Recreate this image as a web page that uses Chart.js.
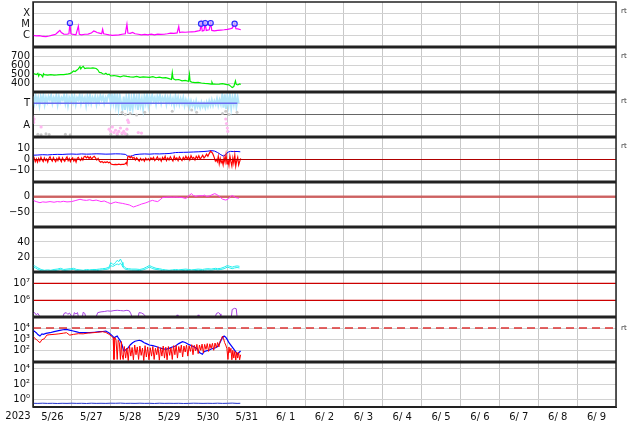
<!DOCTYPE html>
<html>
<head>
<meta charset="utf-8">
<script src="https://cdn.jsdelivr.net/npm/chart.js@4.4.1/dist/chart.umd.min.js"></script>
<style>
  html, body { margin: 0; padding: 0; background: #fff; }
  canvas { display: block; }
</style>
</head>
<body>
<canvas id="chart" width="634" height="424"></canvas>
<script>
// x values are hours after 2023-05-26 00:00
const dayLabels = ["5/26", "5/27", "5/28", "5/29", "5/30", "5/31", "6/ 1", "6/ 2", "6/ 3", "6/ 4", "6/ 5", "6/ 6", "6/ 7", "6/ 8", "6/ 9"];

// panel 1: x-ray flux
const xrayFlux = [[0,1.0e-6],[2,8.9e-7],[4,9.5e-7],[6,7.9e-7],[8,7.6e-7],[10,8.7e-7],[12,1.05e-6],[14,1.26e-6],[15.5,2.0e-6],[16.6,2.8e-6],[17.5,1.8e-6],[19,1.3e-6],[21,1.26e-6],[22.2,1.4e-6],[22.8,1.26e-5],[23.4,1.4e-6],[25,1.2e-6],[26.5,1.1e-6],[28,7.0e-6],[28.6,1.26e-6],[30,1.1e-6],[32,1.26e-6],[34,1.3e-6],[36,1.6e-6],[37.5,2.5e-6],[38.5,2.2e-6],[39.5,1.8e-6],[41,1.6e-6],[42.4,1.4e-6],[43,3.5e-6],[43.6,1.4e-6],[45,1.26e-6],[47,1.1e-6],[49,1.0e-6],[51,1.05e-6],[53,1.1e-6],[55,1.26e-6],[57,1.4e-6],[58,1.0e-5],[58.6,1.6e-6],[60,1.5e-6],[61.5,1.8e-6],[63,1.4e-6],[65,1.26e-6],[67,1.1e-6],[69,1.2e-6],[71,1.1e-6],[73,1.26e-6],[75,1.1e-6],[77,1.3e-6],[79,1.2e-6],[81,1.26e-6],[83,1.4e-6],[85,1.6e-6],[87,1.5e-6],[89,1.66e-6],[90,6.3e-6],[90.6,1.8e-6],[92,2.0e-6],[94,1.9e-6],[96,2.0e-6],[98,2.1e-6],[100,2.2e-6],[102,2.5e-6],[103.2,2.8e-6],[103.8,1.2e-5],[104.5,2.5e-6],[105.6,2.8e-6],[106.3,1.3e-5],[107,2.8e-6],[108.8,3.2e-6],[109.7,1.3e-5],[110.4,2.8e-6],[112,2.5e-6],[114,2.8e-6],[116,3.0e-6],[118,3.2e-6],[120,3.5e-6],[121.5,3.8e-6],[123,4.5e-6],[124.5,1.1e-5],[125.3,4.0e-6],[126.5,3.8e-6],[128.3,3.2e-6]];
const flareFlux = [[22.8,1.3e-5],[103.8,1.15e-5],[106.3,1.3e-5],[109.7,1.3e-5],[124.5,1.15e-5]];

// panel 2: solar wind speed
const windSpeed = [[0,500],[1,505],[2,495],[3,510],[3.5,480],[4,500],[5,495],[6,470],[6.5,505],[7,495],[9,490],[11,495],[13,490],[15,492],[17,495],[19,495],[21,500],[23,510],[24,520],[25,537],[26,530],[27,545],[28,560],[29,586],[29.5,560],[30,575],[31,590],[32,565],[33,570],[35,568],[37,572],[39,565],[40,550],[41,520],[42,518],[43,505],[44,500],[45,510],[46,495],[47,500],[48,480],[50,485],[52,478],[54,470],[56,482],[58,475],[60,470],[62,468],[64,475],[66,465],[68,470],[70,468],[72,465],[74,472],[76,460],[78,466],[80,458],[82,462],[84,450],[85.5,440],[86,518],[86.5,450],[88,435],[90,440],[92,425],[94,430],[96,420],[96.6,500],[97,420],[98,410],[100,405],[102,408],[104,400],[106,395],[108,392],[110,388],[110.5,410],[111,390],[113,386],[115,388],[117,392],[119,384],[121,380],[122,365],[123,348],[124,360],[125,425],[125.5,385],[126.5,378],[127.5,390],[128.3,385]];

// panel 3: T / A
const tBand = [[0,3.6],[0.8,3.0],[1.6,3.7],[2.4,3.1],[3.2,3.5],[4,2.8],[4.8,3.6],[5.6,3.2],[6.4,3.7],[7.2,2.9],[8,3.5],[8.8,3.1],[9.6,3.6],[10.4,3.3],[11.2,3.7],[12,3.0],[12.8,3.5],[13.6,3.2],[14.4,3.7],[15.2,2.9],[16,3.6],[16.8,3.1],[17.6,3.5],[18.4,3.3],[19.2,3.7],[20,3.0],[20.8,3.6],[21.6,2.8],[22.4,3.5],[23.2,3.2],[24,3.7],[24.8,3.1],[25.6,3.6],[26.4,2.9],[27.2,3.5],[28,3.3],[28.8,3.7],[29.6,3.0],[30.4,3.6],[31.2,3.2],[32,3.5],[32.8,2.8],[33.6,3.6],[34.4,3.1],[35.2,3.7],[36,3.0],[36.8,3.5],[37.6,3.2],[38.4,3.6],[39.2,2.9],[40,3.5],[40.8,3.1],[41.6,3.7],[42.4,3.3],[43.2,3.6],[44,3.0],[44.8,3.5],[45.6,3.2],[46.4,3.7],[47.2,3.8],[48,2.9],[48.8,3.7],[49.6,3.0],[50.4,3.8],[51.2,2.8],[52,3.6],[52.8,2.6],[53.6,3.7],[54.4,3.1],[55.2,2.5],[56,3.6],[56.8,2.4],[57.6,3.5],[58.4,2.7],[59.2,3.6],[60,2.3],[60.8,3.4],[61.6,2.6],[62.4,3.7],[63.2,2.9],[64,3.5],[64.8,2.4],[65.6,3.6],[66.4,2.8],[67.2,3.4],[68,2.5],[68.8,3.6],[69.6,3.0],[70.4,3.7],[71.2,2.8],[72,3.6],[72.8,3.1],[73.6,3.7],[74.4,3.2],[75.2,3.5],[76,2.9],[76.8,3.6],[77.6,3.2],[78.4,3.7],[79.2,3.0],[80,3.5],[80.8,3.2],[81.6,3.6],[82.4,2.9],[83.2,3.5],[84,3.1],[84.8,3.6],[85.6,3.0],[86.4,3.4],[87.2,2.8],[88,3.6],[88.8,3.0],[89.6,3.5],[90.4,2.9],[91.2,3.4],[92,3.0],[92.8,3.5],[93.6,2.8],[94.4,3.3],[95.2,2.9],[96,3.3],[96.8,2.7],[97.6,3.2],[98.4,2.8],[99.2,3.1],[100,2.6],[100.8,3.2],[101.6,2.7],[102.4,3.0],[103.2,2.6],[104,3.1],[104.8,2.7],[105.6,3.0],[106.4,2.6],[107.2,3.1],[108,2.7],[108.8,3.2],[109.6,2.8],[110.4,3.3],[111.2,2.8],[112,3.2],[112.8,2.9],[113.6,3.4],[114.4,2.8],[115.2,3.3],[116,2.9],[116.8,3.7],[117.6,2.6],[118.4,3.8],[119.2,2.5],[120,3.6],[120.8,2.8],[121.6,3.7],[122.4,2.6],[123.2,3.5],[124,2.9],[124.8,3.7],[125.6,2.7],[126.4,3.5],[127,3.0]];
const tLevel = [[0,3],[126.2,3]];
const grayDots = [[55,2.2],[57,2.0],[60,2.1],[64,1.95],[69,2.2],[86,2.3],[98,2.4],[101,2.2],[117,2.1],[119,2.3],[121,2.0],[126,2.2],[3,0.25],[5,0.2],[8,0.28],[10,0.22],[20,0.25],[23,0.2],[48,0.25],[52,0.2],[55,0.28],[58,0.22]];
const pinkDots = [[0,1.8],[0.2,1.5],[0.4,1.3],[0.6,1.6],[5,0.9],[47,0.7],[48,0.5],[49,0.9],[50,0.4],[51,0.6],[52,0.3],[53,0.5],[54,0.8],[55,0.35],[56,0.5],[57,0.3],[58,0.7],[58.5,1.5],[59,1.3],[65,0.4],[67,0.35],[119,1.6],[119.5,1.2],[120,0.8],[120.3,0.5]];

// panel 4: IMF Bt / Bz
const imfBt = [[0,4],[3,4.2],[6,4.5],[9,4.3],[12,4.6],[15,4.8],[18,4.7],[21,5],[24,5.1],[27,4.9],[30,5.2],[33,5],[36,5.1],[39,5.3],[42,5.2],[45,5],[48,5.1],[51,5.3],[54,5.2],[57,4.8],[58.5,3.2],[60,3],[61.5,3.6],[63,4.5],[66,5],[69,5.2],[72,5],[75,5.3],[78,5.2],[81,5.4],[84,5.6],[86,6],[88,6.5],[90,6.6],[93,6.7],[96,6.8],[99,7],[102,7.2],[105,7.4],[108,7.8],[110,8.3],[112,7.9],[114,6.5],[116,4.5],[117.5,3.2],[119,4.5],[120.5,7],[122,7.6],[124,7.4],[126,7.5],[128,7.2]];
const imfBz = [[0,-1],[0.7,1.5],[1.4,-2],[2.1,0.5],[2.8,-2.5],[3.5,1],[4.2,-1.5],[4.9,2],[5.6,-0.5],[6.3,-2],[7,1.5],[7.7,-1],[8.4,0.5],[9.1,-2.5],[9.8,1],[10.5,2.5],[11.2,0],[11.9,-1.5],[12.6,1.8],[13.3,-0.5],[14,-2],[14.7,1],[15.4,-1],[16.1,2],[16.8,0],[17.5,-2],[18.2,1.5],[18.9,-0.5],[19.6,-1.8],[20.3,0.8],[21,2.5],[21.7,-1],[22.4,1],[23.1,-2],[23.8,0.5],[24.5,1.5],[25.2,-1.5],[25.9,0.5],[26.6,-2.5],[27.3,1],[28,2],[28.7,0],[29.4,-1],[30.1,1.5],[30.8,-0.5],[31.5,2.5],[32.2,3],[33,1.5],[33.8,2.8],[34.6,1],[35.4,2.5],[36.2,0.5],[37,2],[37.8,3],[38.6,1.5],[39.4,-0.5],[40.2,1],[41,-1.5],[41.8,-2.5],[42.6,-1.8],[43.4,-3],[44.2,-2.2],[45,-2.8],[45.8,-2],[46.6,-3],[47.4,-2.5],[48.2,-4.2],[49,-4.6],[50,-4.8],[51,-4.5],[52,-4.7],[53,-4.4],[54,-4.8],[55,-4.5],[56,-4.6],[57,-4],[57.5,-3],[58,-4.5],[58.5,2.5],[59.3,3],[60,1.5],[60.8,2.8],[61.6,1],[62.4,2],[63.2,-0.5],[64,1.5],[64.8,0],[65.6,-1.5],[66.4,1],[67.2,-0.8],[68,0.5],[68.8,-1.5],[69.6,1.2],[70.4,-0.5],[71.2,0.8],[72,-1],[72.8,1.5],[73.6,0],[74.4,2],[75.2,-1],[76,0.5],[76.8,2.5],[77.6,-0.5],[78.4,1],[79.2,-1.5],[80,2],[80.8,0],[81.6,3],[82.4,-1],[83.2,1.5],[84,-0.5],[84.8,2.5],[85.6,0.5],[86.4,-1.5],[87.2,3],[88,0],[88.8,1.5],[89.6,-1],[90.4,2.5],[91.2,0.5],[92,-1],[92.8,2],[93.6,0],[94.4,3],[95.2,0.5],[96,2.5],[96.8,-0.5],[97.6,3.5],[98.4,1],[99.2,2],[100,-0.5],[100.8,3],[101.6,1],[102.4,3.5],[103.2,0.5],[104,2],[104.8,4],[105.6,1.5],[106.4,3],[107.2,5],[108,3],[108.8,5.5],[109.6,7.7],[110.2,7],[110.8,6],[111.4,4],[112,1.5],[112.6,-1.5],[113.2,0],[113.8,-2],[114.4,3],[115,-4],[115.6,1],[116.2,-3],[116.8,-1],[117.4,-5],[118,2],[118.6,-2.5],[119.2,4.5],[119.8,-4],[120.4,0],[121,-5.5],[121.6,3],[122.2,-2],[122.8,-6],[123.4,1.5],[124,-3.5],[124.6,4],[125.2,-6],[125.8,-1],[126.4,2],[127,-5],[127.6,-2],[128.2,1]];
const bzZero = 0;

// panel 5: Dst
const dstIndex = [[0,-12],[2,-16],[4.3,-19.6],[6,-17],[8,-18],[10.5,-16],[13,-18],[15,-16],[17,-17],[18.7,-15],[21,-17],[23.8,-16],[26,-13],[29,-8.5],[31,-11],[33,-12],[35,-10],[37,-13],[39,-11],[41,-14],[42,-16],[44,-14],[46,-18.6],[48,-22.8],[50,-19],[51,-17.5],[53,-20],[55.4,-22],[57,-24],[59.5,-27],[61,-31],[62,-33.7],[64,-30],[65.6,-27],[67,-24],[69.7,-20],[72,-15],[73.8,-12],[75,-14],[77,-16],[78.5,-10],[80,-3],[82,-2],[84,-1],[86,-2],[88,-1],[90,-2],[92.3,-3],[94.4,-6],[96,2],[97.8,10],[99,4],[100.5,1],[102,3],[104.6,3],[106,5],[107,1],[108.7,2],[110,5],[112.2,10],[113.5,7],[115,1],[115.9,-3],[117,-8],[119,-11],[120.5,-8],[122.7,4],[124,1],[125.2,-3],[127.2,-5]];
const dstZero = 0;

// panel 6: density
const densityA = [[0,10.5],[1.5,9],[3,7],[5,5],[7,4],[9,4.5],[11,4],[13,5],[15,5.5],[17,6.5],[19,5],[21,5.5],[23,6],[25,6.5],[27,5],[29,4.5],[31,4],[33,5],[35,4.5],[37,5],[39,5],[41,5.5],[43,6],[45,6.5],[47,8],[48,13.6],[49,12],[50,11.5],[51,14],[52,16.6],[53,15],[54,18.3],[55,14],[55.5,10.6],[56.5,8],[57.5,6.5],[59,6],[61,5.5],[63.6,5.5],[66,5],[68,6],[70,8],[71.8,10],[73,9],[74,8],[76,6.5],[78,6],[80,5],[82,4.5],[84,4],[86,4.5],[88,5],[90,4.5],[92,5],[94.4,5.5],[96,5],[98,4.5],[100,5],[102,5.5],[104.6,5],[106,5.5],[108,6],[110,5.5],[112.8,6.5],[114,6],[116,6.5],[118,8],[120,10],[121.5,9],[123,8],[124.5,9],[126,9.5],[127.5,9]];
const densityB = [[0,8],[1.5,7],[3,5],[5,3.5],[7,3],[9,3],[11,3],[13,3.5],[15,4],[17,5],[19,3.5],[21,4],[23,4.5],[25,5],[27,3.5],[29,3],[31,3],[33,3.5],[35,3],[37,3.5],[39,3.5],[41,4],[43,4.5],[45,5],[47,6],[48,10],[49,9],[50,9.5],[51,11],[52,12],[53,11],[54,13],[55,10],[55.5,8],[56.5,6],[57.5,5],[59,4.5],[61,4],[63.6,4],[66,3.5],[68,4.5],[70,6],[71.8,8],[73,7],[74,6],[76,5],[78,4.5],[80,3.5],[82,3],[84,3],[86,3],[88,3.5],[90,3],[92,3.5],[94.4,4],[96,3.5],[98,3],[100,3.5],[102,4],[104.6,3.5],[106,4],[108,4.5],[110,4],[112.8,5],[114,4.5],[116,5],[118,6],[120,8],[121.5,7],[123,6],[124.5,7],[126,7.5],[127.5,7]];

// panel 7: electron flux (null = below scale)
const electronFlux = [[0,1.6e5],[1,1.9e5],[2,1.4e5],[3,1.7e5],[4.3,1.1e5],[4.5,null],[18.5,1.1e5],[19.2,1.7e5],[20.5,1.9e5],[21.5,1.5e5],[22.5,1.8e5],[24,1.1e5],[24.3,null],[25,1.1e5],[25.5,1.9e5],[26.5,1.6e5],[27.5,1.9e5],[28,1.1e5],[28.3,null],[30.5,1.1e5],[31,2.0e5],[32,1.7e5],[32.5,1.1e5],[33,null],[39,1.1e5],[40,1.9e5],[42,2.1e5],[44,2.2e5],[46,2.4e5],[48,2.3e5],[50,2.5e5],[52,2.6e5],[54,2.5e5],[56,2.4e5],[58,2.6e5],[59.5,2.4e5],[60.5,1.6e5],[61,1.1e5],[61.3,null],[65,1.1e5],[65.5,1.9e5],[67,1.8e5],[68.5,1.5e5],[69.5,1.1e5],[70,null],[88.5,1.1e5],[89,1.4e5],[89.5,1.1e5],[90,null],[101.5,1.1e5],[102,1.4e5],[102.5,1.1e5],[103,null],[112.6,1.1e5],[113.3,1.7e5],[114.5,1.9e5],[115.5,1.6e5],[116,1.1e5],[116.5,null],[122.5,1.1e5],[123,2.9e5],[124.5,3.4e5],[125.5,3.2e5],[126,1.1e5]];
const electronLevels = [1e6, 1e7];

// panel 8: two flux series
const fluxBlue = [[0,6200],[1,5000],[2,3800],[3,2600],[4.3,1900],[5.5,3000],[6.4,2700],[8,3300],[10.5,3800],[13,4800],[16.6,6200],[18.5,7000],[20.7,7600],[22.5,6500],[24.8,5400],[27,4500],[29,3800],[32,3900],[35,3800],[38,4200],[41,4700],[43,4900],[45,5300],[47,3500],[48,2700],[49,2000],[50,1350],[51,1600],[52,1900],[53,1100],[54,680],[55,300],[56,90],[56.4,87],[57.5,120],[58.5,150],[60,300],[61.5,480],[63,650],[65.6,800],[67,700],[68.7,480],[70,400],[71.8,300],[74,260],[76,220],[78,170],[80,140],[82,120],[84,150],[86,200],[88,240],[90,400],[92.3,590],[94,500],[96.4,320],[98,260],[100.5,170],[102,100],[103,60],[104.6,44],[105.5,70],[107,90],[108.7,100],[110,130],[112.8,170],[114,220],[115.5,500],[116.9,1350],[118,1900],[119,1500],[120,900],[121,480],[122.5,250],[124.1,120],[125,80],[126.2,44],[127,60],[128.2,87]];
const fluxRed = [[0,1900],[1,1200],[2,950],[3,700],[4.3,480],[5.5,900],[7,1100],[8.5,2300],[10,2500],[13,2700],[16,3000],[19,3500],[20.7,3800],[22.7,2300],[25,2700],[28,3100],[31,3000],[34,3600],[37,3800],[40,4200],[43,4700],[45,4000],[47,2700],[48.5,1800],[49.5,1350],[50,15],[50.6,1350],[51.3,800],[52,15],[52.6,800],[53.3,500],[54,15],[54.6,600],[55,40],[55.7,15],[56.4,220],[57.2,20],[58,160],[58.8,12],[59.6,250],[60.4,30],[61.2,180],[62,14],[62.8,300],[63.6,40],[64.4,200],[65.2,15],[66,240],[66.8,35],[67.6,160],[68.4,12],[69.2,260],[70,25],[70.8,200],[71.6,14],[72.4,170],[73.2,30],[74,220],[74.8,15],[75.6,150],[76.4,40],[77.2,210],[78,13],[78.8,170],[79.6,30],[80.4,240],[81.2,20],[82,190],[82.8,14],[83.6,220],[84.4,35],[85.2,170],[86,15],[86.8,260],[87.6,40],[88.4,280],[89.2,20],[90,220],[90.8,60],[91.6,300],[92.4,25],[93.2,240],[94,70],[94.8,300],[95.6,30],[96.4,250],[97.2,80],[98,320],[98.8,40],[99.6,280],[100.4,90],[101.2,340],[102,50],[102.8,300],[103.6,100],[104.4,360],[105.2,60],[106,340],[106.8,120],[107.6,400],[108.4,80],[109.2,380],[110,150],[110.8,420],[111.6,100],[112.4,450],[113.2,170],[114,500],[114.8,200],[115.6,700],[116.4,1100],[117,1900],[117.6,1200],[118.3,500],[119,300],[119.7,150],[120.4,15],[121,200],[121.6,60],[122.2,150],[122.8,14],[123.4,100],[124,20],[124.6,80],[125.2,13],[125.8,70],[126.4,20],[127,60],[127.6,14],[128.2,40]];
const fluxThreshold = 1e4;

// panel 9
const lowFlux = [[0,0.34],[3,0.33],[6,0.35],[9,0.33],[12,0.34],[15,0.32],[18,0.34],[21,0.33],[24,0.35],[27,0.33],[30,0.34],[33,0.32],[36,0.35],[39,0.33],[42,0.34],[45,0.33],[48,0.35],[51,0.34],[54,0.36],[57,0.33],[60,0.34],[63,0.33],[66,0.35],[69,0.33],[72,0.34],[75,0.32],[78,0.35],[81,0.33],[84,0.34],[87,0.33],[90,0.34],[93,0.32],[96,0.33],[99,0.35],[102,0.34],[105,0.33],[108,0.34],[111,0.33],[114,0.35],[117,0.33],[120,0.34],[123,0.36],[126,0.33],[128,0.34]];

const panelIds = ["y1", "y2", "y3", "y4", "y5", "y6", "y7", "y8", "y9"];
const FONT = "'DejaVu Sans', sans-serif";
const GRID = "#d2d2d2";
const X_MAX = 360;

function pts(pairs) {
  return pairs.map(([x, y]) => ({ x: x, y: y }));
}

function line(pairs, yAxisID, color, width) {
  return {
    data: pts(pairs),
    xAxisID: "x",
    yAxisID: yAxisID,
    borderColor: color,
    borderWidth: width || 1,
    pointRadius: 0,
    tension: 0,
    fill: false,
  };
}

function hline(value, yAxisID, color, width, dash) {
  const ds = line([[0, value], [X_MAX, value]], yAxisID, color, width);
  ds.borderDash = dash || [];
  return ds;
}

function dots(pairs, yAxisID, color, radius) {
  return {
    data: pts(pairs),
    xAxisID: "x",
    yAxisID: yAxisID,
    showLine: false,
    pointRadius: radius,
    pointBorderWidth: 0,
    pointBackgroundColor: color,
    pointBorderColor: color,
  };
}

function panelAxis(order, type, min, max, ticks, labels, gridColor) {
  return {
    type: type,
    position: "left",
    stack: "panels",
    stackWeight: 1,
    weight: 20 - order,
    min: min,
    max: max,
    afterBuildTicks: (s) => {
      s.ticks = ticks.map((v) => ({ value: v }));
    },
    afterFit: (s) => {
      s.width = 33;
      s.paddingTop = 0;
      s.paddingBottom = 0;
    },
    ticks: {
      autoSkip: false,
      padding: 3,
      color: "#111",
      font: { family: FONT, size: 10 },
      callback: (v, i) => labels[i],
    },
    grid: { color: gridColor || GRID, drawTicks: false },
    border: { color: "#222" },
  };
}

const flareMarks = {
  data: pts(flareFlux),
  xAxisID: "x",
  yAxisID: "y1",
  showLine: false,
  pointRadius: 2.6,
  pointBorderWidth: 1.2,
  pointBorderColor: "#2a2aff",
  pointBackgroundColor: "rgba(190,190,255,0.7)",
};

const datasets = [
  flareMarks,
  line(xrayFlux, "y1", "#ff00ff", 1.2),
  line(windSpeed, "y2", "#00ee00", 1.2),
  line(tLevel, "y3", "#6a6cf0", 1.5),
  dots(pinkDots, "y3", "#ffb8f0", 1.6),
  dots(grayDots, "y3", "#c8c8c8", 1.5),
  line(tBand, "y3", "#b2e6fb", 2),
  hline(bzZero, "y4", "#b00000", 1.2),
  line(imfBz, "y4", "#ff0000", 1.2),
  line(imfBt, "y4", "#0000ff", 1),
  line(dstIndex, "y5", "#ff33ff", 1),
  hline(dstZero, "y5", "rgba(200,70,70,0.8)", 2.5),
  line(densityA, "y6", "#22eeee", 1),
  line(densityB, "y6", "#22eeee", 1),
  hline(electronLevels[0], "y7", "#cc0000", 1.2),
  hline(electronLevels[1], "y7", "#cc0000", 1.2),
  line(electronFlux, "y7", "#a540e0", 1),
  hline(fluxThreshold, "y8", "#dd3333", 1.4, [8, 5]),
  line(fluxRed, "y8", "#ff0000", 1),
  line(fluxBlue, "y8", "#0000ff", 1.2),
  line(lowFlux, "y9", "#2233cc", 1),
];

// keep each series inside its own panel
const panelClip = {
  id: "panelClip",
  beforeDatasetDraw(chart, args) {
    const { ctx } = chart;
    const xs = args.meta.xScale;
    const ys = args.meta.yScale;
    ctx.save();
    ctx.beginPath();
    ctx.rect(xs.left, ys.top, xs.right - xs.left, ys.bottom - ys.top);
    ctx.clip();
  },
  afterDatasetDraw(chart) {
    chart.ctx.restore();
  },
};

const panelFrame = {
  id: "panelFrame",
  afterDraw(chart) {
    const { ctx, chartArea: a } = chart;
    ctx.save();
    ctx.strokeStyle = "#222";
    ctx.lineWidth = 1.5;
    ctx.strokeRect(a.left, a.top, a.right - a.left, a.bottom - a.top);
    ctx.lineWidth = 3;
    panelIds.slice(0, -1).forEach((id) => {
      const y = chart.scales[id].bottom;
      ctx.beginPath();
      ctx.moveTo(a.left, y);
      ctx.lineTo(a.right, y);
      ctx.stroke();
    });
    ctx.lineWidth = 2;
    ctx.beginPath();
    ctx.moveTo(a.left, a.bottom);
    ctx.lineTo(a.right, a.bottom);
    ctx.stroke();

    ctx.fillStyle = "#111";
    ctx.font = "10px " + FONT;
    ctx.textAlign = "center";
    ctx.textBaseline = "middle";
    ctx.fillText("2023", 18, 416);

    ctx.fillStyle = "#333";
    ctx.font = "7px " + FONT;
    ctx.textAlign = "left";
    ["y1", "y2", "y3", "y4"].forEach((id) => {
      ctx.fillText("rt", a.right + 5, chart.scales[id].top + 9);
    });
    ctx.fillText("rt", a.right + 5, chart.scales.y8.getPixelForValue(fluxThreshold));
    ctx.restore();
  },
};

new Chart(document.getElementById("chart"), {
  type: "line",
  data: { datasets: datasets },
  options: {
    responsive: false,
    animation: false,
    devicePixelRatio: 1,
    layout: { autoPadding: false, padding: { left: 0, right: 18, top: 2, bottom: 0 } },
    plugins: { legend: { display: false }, tooltip: { enabled: false } },
    scales: {
      x: {
        type: "linear",
        position: "bottom",
        min: 0,
        max: X_MAX,
        afterBuildTicks: (s) => {
          s.ticks = dayLabels.map((_, i) => ({ value: 12 + 24 * i }));
        },
        afterFit: (s) => {
          s.height = 17;
        },
        ticks: {
          autoSkip: false,
          maxRotation: 0,
          padding: 4,
          color: "#111",
          font: { family: FONT, size: 10 },
          callback: (v, i) => dayLabels[i],
        },
        grid: { color: "#c8c8c8", offset: true, drawTicks: false },
        border: { color: "#222" },
      },
      y1: panelAxis(1, "logarithmic", 8.7e-8, 1.07e-3, [1e-6, 1e-5, 1e-4], ["C", "M", "X"]),
      y2: panelAxis(2, "linear", 298, 809, [400, 500, 600, 700], ["400", "500", "600", "700"]),
      y3: panelAxis(3, "linear", 0, 4, [1, 2, 3], ["A", "", "T"], (c) => (c.tick && c.tick.value === 2 ? "#666" : GRID)),
      y4: panelAxis(4, "linear", -21, 21, [-10, 0, 10], ["\u221210", "0", "10"]),
      y5: panelAxis(5, "linear", -99, 48, [-50, 0], ["\u221250", "0"]),
      y6: panelAxis(6, "linear", 1.8, 59, [20, 40], ["20", "40"]),
      y7: panelAxis(7, "logarithmic", 1.05e5, 4.6e7, [1e6, 1e7], ["10\u2076", "10\u2077"]),
      y8: panelAxis(8, "logarithmic", 8.9, 9.8e4, [1e2, 1e3, 1e4], ["10\u00b2", "10\u00b3", "10\u2074"]),
      y9: panelAxis(9, "logarithmic", 0.112, 8.1e4, [1, 1e2, 1e4], ["10\u2070", "10\u00b2", "10\u2074"]),
    },
  },
  plugins: [panelClip, panelFrame],
});
</script>
</body>
</html>
